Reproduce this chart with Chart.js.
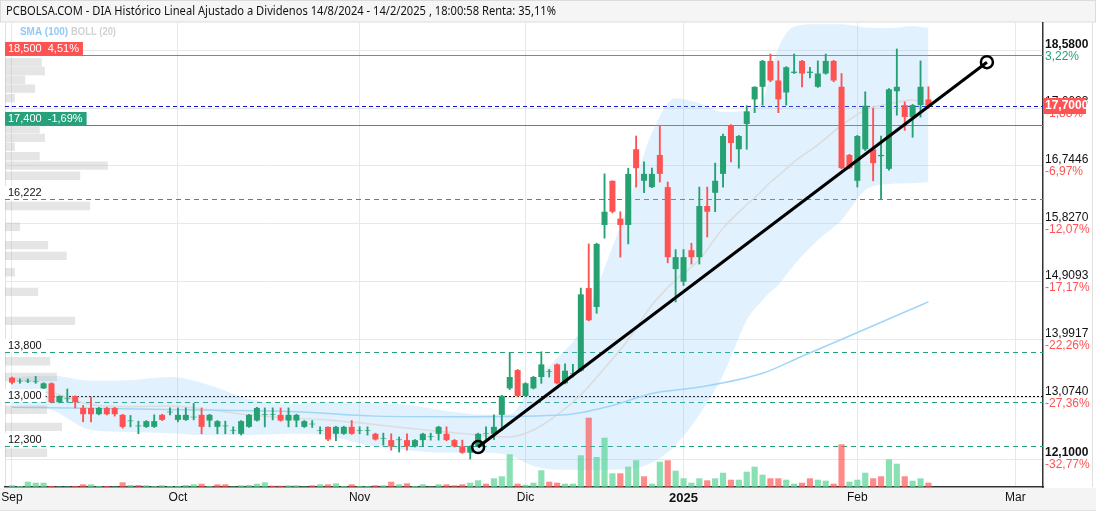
<!DOCTYPE html>
<html>
<head>
<meta charset="utf-8">
<script src="https://cdn.jsdelivr.net/npm/chart.js@4.4.1/dist/chart.umd.min.js"></script>
<style>
  html, body { margin: 0; padding: 0; background: #fff; }
  canvas { display: block; }
</style>
</head>
<body>
<canvas id="c" width="1096" height="512"></canvas>
<script>
// ---------- data ----------
const title = 'PCBOLSA.COM - DIA Histórico Lineal Ajustado a Dividenos 14/8/2024 - 14/2/2025 , 18:00:58 Renta: 35,11%';

// x axis is in trading sessions, 0 = 2 Sep 2024
const monthLabels = ['Sep', 'Oct', 'Nov', 'Dic', '2025', 'Feb', 'Mar'];
const monthStart = [0, 21, 44, 65, 85, 107, 127];

const open = [13.39,13.33,13.33,13.32,13.22,13.30,13.00,13.05,13.10,12.91,
  12.91,12.81,12.91,12.91,12.80,12.70,12.62,12.61,12.61,12.80,
  12.84,12.72,12.72,12.76,12.80,12.71,12.61,12.62,12.55,12.50,
  12.61,12.71,12.80,12.80,12.80,12.71,12.71,12.61,12.65,12.55,
  12.61,12.50,12.50,12.61,12.55,12.55,12.50,12.42,12.40,12.40,
  12.40,12.30,12.40,12.45,12.50,12.50,12.40,12.30,12.20,12.30,
  12.50,12.50,12.80,13.22,13.51,13.10,13.22,13.40,13.48,13.60,
  13.30,13.45,13.50,14.81,14.51,15.81,16.51,15.91,15.81,17.01,
  16.51,16.41,16.92,16.41,15.11,14.91,15.41,15.30,16.11,16.32,
  16.62,17.39,17.01,17.41,17.80,18.00,18.41,18.10,17.91,18.22,
  18.41,18.22,18.00,18.21,18.41,18.00,16.92,16.51,17.01,17.01,
  16.90,16.70,17.93,17.71,17.52,17.71,17.80];
const high = [13.40,13.37,13.37,13.41,13.31,13.31,13.10,13.21,13.10,12.95,
  13.08,12.92,12.92,12.92,12.81,12.79,12.70,12.71,12.80,12.81,
  12.91,12.91,12.91,12.98,12.91,12.81,12.71,12.70,12.61,12.71,
  12.81,12.92,12.91,12.91,12.91,12.91,12.81,12.71,12.71,12.61,
  12.61,12.62,12.62,12.71,12.61,12.61,12.51,12.51,12.50,12.45,
  12.50,12.41,12.51,12.51,12.62,12.61,12.41,12.40,12.31,12.51,
  12.61,12.80,13.11,13.79,13.52,13.31,13.41,13.80,13.52,13.61,
  13.61,13.60,14.81,15.51,15.52,16.62,16.51,16.02,16.71,17.22,
  16.81,16.71,17.39,16.49,15.42,15.42,15.52,16.41,16.41,16.79,
  17.25,17.40,17.23,17.70,18.00,18.42,18.52,18.41,18.32,18.52,
  18.42,18.31,18.41,18.52,18.42,18.21,16.93,17.23,17.92,17.66,
  17.22,17.97,18.60,17.76,17.72,18.41,18.00];
const low = [13.29,13.30,13.31,13.30,13.21,12.99,12.99,13.00,12.91,12.69,
  12.69,12.80,12.80,12.78,12.59,12.61,12.50,12.60,12.60,12.71,
  12.80,12.69,12.71,12.72,12.50,12.61,12.50,12.50,12.50,12.48,
  12.60,12.70,12.61,12.72,12.70,12.61,12.61,12.60,12.60,12.50,
  12.39,12.39,12.49,12.49,12.50,12.48,12.40,12.32,12.24,12.21,
  12.24,12.29,12.30,12.40,12.40,12.39,12.29,12.19,12.10,12.29,
  12.41,12.41,12.55,13.20,13.09,13.09,13.21,13.30,13.40,13.29,
  13.29,13.40,13.49,14.29,14.41,15.60,16.00,15.30,15.51,16.41,
  16.32,16.40,16.49,15.21,14.59,14.85,15.19,15.19,15.62,16.02,
  16.41,16.81,16.71,17.01,17.59,17.71,18.08,17.59,17.71,18.21,
  18.00,18.14,17.99,18.20,18.08,16.70,16.70,16.41,16.99,16.51,
  16.22,16.68,17.55,17.31,17.20,17.52,17.66];
const close = [13.31,13.34,13.34,13.33,13.30,13.00,13.10,13.06,13.00,12.81,
  12.81,12.91,12.81,12.81,12.61,12.71,12.63,12.70,12.70,12.72,
  12.85,12.80,12.80,12.77,12.61,12.80,12.70,12.63,12.56,12.70,
  12.80,12.91,12.81,12.81,12.71,12.80,12.80,12.70,12.66,12.56,
  12.41,12.61,12.61,12.50,12.56,12.56,12.41,12.43,12.30,12.41,
  12.30,12.40,12.50,12.46,12.61,12.40,12.30,12.20,12.30,12.50,
  12.51,12.61,13.10,13.40,13.10,13.30,13.40,13.60,13.49,13.30,
  13.50,13.46,14.71,14.30,15.51,16.02,16.02,15.81,16.62,16.71,
  16.62,16.62,16.62,15.30,15.30,15.30,15.30,16.11,16.02,16.51,
  17.22,17.11,17.22,17.61,18.00,18.41,18.10,17.80,18.31,18.24,
  18.21,18.24,18.21,18.41,18.10,16.71,16.71,17.22,17.70,16.79,
  16.92,17.96,18.00,17.52,17.71,18.00,17.70];

// volume (thousand shares) and its colour: g = up vs previous close, r = down
const volume = [17,10,53,43,43,10,5,5,10,27,
  27,10,10,5,47,20,20,17,10,17,
  10,10,20,27,33,10,27,27,5,17,
  20,33,47,13,13,17,17,5,17,27,
  27,37,10,27,10,10,17,17,53,27,
  37,10,27,5,27,27,17,27,43,67,
  33,87,107,327,33,23,43,167,53,43,
  33,33,317,693,300,493,137,137,203,267,
  107,33,253,267,163,87,43,87,67,87,
  143,73,73,153,203,123,87,87,73,33,
  43,87,73,63,33,427,53,73,143,87,
  107,277,233,107,63,87,43];
const volDir = 'gggggrggrr' + 'ggrgrgrggg' + 'ggggrgrrgg' + 'gggrrgggrg' + 'rggrggrgrg' +
  'rggggrrrgg' + 'rgggrgggrr' + 'gggrgggrgg' + 'rggrggggrg' + 'grggggrrgg' +
  'rrggrrgggr' + 'rggrggr';

// Bollinger (20) read at these sessions
const bbDay   = [0,5,10,15,20,25,30,35,40,45,50,55,60,63,66,69,72,75,78,81,84,87,90,93,95,96,97,99,102,105,108,111,114,116];
const bbUpper = [13.40,13.42,13.34,13.35,13.40,13.27,13.05,12.97,13.00,12.99,12.96,12.86,12.80,12.81,13.31,13.70,14.15,15.13,16.13,17.27,17.82,17.74,17.60,17.63,17.79,18.19,18.61,18.95,18.99,18.99,18.94,18.93,18.96,18.93];
const bbMid   = [13.18,13.15,12.96,12.93,12.94,12.88,12.80,12.75,12.72,12.66,12.59,12.53,12.47,12.45,12.56,12.80,13.12,13.54,13.99,14.54,14.94,15.26,15.76,16.13,16.36,16.49,16.59,16.81,17.08,17.39,17.63,17.73,17.79,17.70];
const bbLower = [12.96,12.88,12.56,12.53,12.51,12.48,12.48,12.50,12.47,12.32,12.24,12.20,12.20,12.16,11.99,11.93,11.93,11.93,11.94,12.04,12.32,12.80,13.43,14.30,14.62,14.75,14.86,15.18,15.57,15.89,16.36,16.46,16.47,16.49];

// SMA (100)
const smaDay = [0,22,36,46,58,70,76,81,87,95,100,106,113,116];
const sma100 = [12.92,12.88,12.85,12.78,12.77,12.80,12.95,13.14,13.24,13.46,13.73,14.05,14.43,14.59];

// hand drawn trend line
const trendDay = [59, 123.4];
const trendVal = [12.29, 18.39];

// horizontal levels
const levels = [18.5, 17.4, 16.222, 13.8, 13.0, 12.3];
const levelLabels = ['18,500  4,51%', '17,400  -1,69%', '16,222', '13,800', '13,000', '12,300'];
const refClose = 13.10;
const lastPrice = 17.70;
const lastLabel = '17,7000';

// right axis ticks
const yTicks = [12.1, 13.074, 13.9917, 14.9093, 15.827, 16.7446, 17.6623, 18.58];
const yTickPct = ['-32,77%', '-27,36%', '-22,26%', '-17,17%', '-12,07%', '-6,97%', '-1,88%', '3,22%'];

// volume by price (left profile)
const profPrice = [18.39,18.25,18.11,17.97,17.82,17.33,17.19,17.05,16.90,16.75,16.59,16.11,15.78,15.49,15.32,15.06,14.75,14.29,13.65,13.40,12.88,12.61,12.20];
const profVol   = [71,77,39,58,19,67,77,19,67,198,145,164,29,83,119,19,64,135,87,100,81,110,81];

// ---------- chart ----------
const GREEN = '#26a172';
const RED = '#ff5252';
const TEAL = '#26a17b';
const days = open.map((_, i) => i);
const candleCol = days.map(i => close[i] >= open[i] ? GREEN : RED);
const FONT = '"Liberation Sans", Arial, sans-serif';

const levelStyle = [
  { line: RED, dash: [], box: RED, txt: '#fff' },
  { line: TEAL, dash: [], box: TEAL, txt: '#fff' },
  { line: TEAL, dash: [5, 4], box: '#fff', txt: '#111' },
  { line: TEAL, dash: [5, 4], box: '#fff', txt: '#111' },
  { line: TEAL, dash: [5, 4], box: '#fff', txt: '#111' },
  { line: TEAL, dash: [5, 4], box: '#fff', txt: '#111' }
];

// horizontal rule across the plot, drawn as 1px rectangles
function hline(chart, v, color, dash) {
  const ctx = chart.ctx, a = chart.chartArea;
  const py = Math.round(chart.scales.y.getPixelForValue(v));
  ctx.save();
  ctx.fillStyle = color;
  if (!dash.length) {
    ctx.fillRect(a.left, py, a.right - a.left, 1);
  } else {
    for (let x = a.left; x < a.right; x += dash[0] + dash[1]) {
      ctx.fillRect(x, py, Math.min(dash[0], a.right - x), 1);
    }
  }
  ctx.restore();
}

const decor = {
  id: 'decor',
  beforeDraw(chart) {
    const ctx = chart.ctx, a = chart.chartArea;
    ctx.save();
    ctx.fillStyle = '#fff';
    ctx.fillRect(0, 0, chart.width, chart.height);
    // title bar
    ctx.fillStyle = '#f5f5f5';
    ctx.fillRect(0, 0, chart.width, 22);
    ctx.strokeStyle = '#dcdcdc';
    ctx.lineWidth = 1;
    ctx.strokeRect(0.5, 0.5, chart.width - 1, 21.5);
    ctx.fillStyle = '#111';
    ctx.font = '13px "Noto Sans", ' + FONT;
    ctx.textBaseline = 'middle';
    ctx.fillText(title, 6, 11.5, 550);
    // strip under the time axis and frame lines
    ctx.fillStyle = '#f4f4f4';
    ctx.fillRect(0, a.bottom + 1, chart.width, 22);
    ctx.strokeStyle = '#e0e0e0';
    ctx.beginPath();
    ctx.moveTo(0, a.bottom + 23.5); ctx.lineTo(chart.width, a.bottom + 23.5);
    ctx.moveTo(a.left + 0.5, a.top); ctx.lineTo(a.left + 0.5, a.bottom);
    ctx.moveTo(1092.5, a.top); ctx.lineTo(1092.5, a.bottom);
    ctx.stroke();
    ctx.restore();
  },
  beforeDatasetsDraw(chart) {
    levels.forEach((v, i) => hline(chart, v, levelStyle[i].line, levelStyle[i].dash));
    hline(chart, refClose, '#000', [2, 2]);
    hline(chart, lastPrice, '#1414c8', [4, 3]);
  },
  afterDatasetsDraw(chart) {
    const ctx = chart.ctx, a = chart.chartArea, ys = chart.scales.y, xs = chart.scales.x;
    ctx.save();
    ctx.font = '11px ' + FONT;
    ctx.textBaseline = 'middle';
    levels.forEach((v, i) => {
      const py = Math.round(ys.getPixelForValue(v));
      const w = ctx.measureText(levelLabels[i]).width + 7;
      ctx.fillStyle = levelStyle[i].box;
      ctx.fillRect(a.left, py - 13, w, 13);
      ctx.fillStyle = levelStyle[i].txt;
      ctx.fillText(levelLabels[i], a.left + 3, py - 6);
    });
    ctx.font = 'bold 11px ' + FONT;
    ctx.fillStyle = '#90caf9';
    ctx.fillText('SMA (100)', 20, 32, 48);
    ctx.fillStyle = '#d2d2d2';
    ctx.fillText('BOLL (20)', 71, 32, 45);
    // month labels of the time axis
    ctx.textAlign = 'center';
    ctx.fillStyle = '#111';
    monthStart.forEach((d, i) => {
      const bold = monthLabels[i] === '2025';
      ctx.font = (bold ? 'bold 13px ' : '12px ') + FONT;
      ctx.fillText(monthLabels[i], xs.getPixelForValue(d), a.bottom + 11);
    });
    ctx.restore();
  },
  afterDraw(chart) {
    const ctx = chart.ctx, ys = chart.scales.y;
    ctx.save();
    ctx.textBaseline = 'middle';
    yTicks.forEach((v, i) => {
      const py = ys.getPixelForValue(v);
      const edge = i === 0 || i === yTicks.length - 1;
      ctx.font = (edge ? 'bold ' : '') + '12px ' + FONT;
      ctx.fillStyle = '#111';
      ctx.fillText(v.toFixed(4).replace('.', ','), ys.left + 2, py - 6);
      ctx.font = '12px ' + FONT;
      ctx.fillStyle = yTickPct[i][0] === '-' ? RED : TEAL;
      ctx.fillText(yTickPct[i], ys.left + 2, py + 6);
    });
    const py = ys.getPixelForValue(lastPrice);
    ctx.fillStyle = RED;
    ctx.fillRect(ys.left, Math.round(py) - 8, 43, 16);
    ctx.fillStyle = '#fff';
    ctx.font = 'bold 12px ' + FONT;
    ctx.fillText(lastLabel, ys.left + 2, py);
    ctx.restore();
  }
};

const ctx = document.getElementById('c').getContext('2d');

new Chart(ctx, {
  type: 'bar',
  data: {
    datasets: [
      {
        type: 'line', label: 'boll up',
        data: bbDay.map((d, i) => ({ x: d, y: bbUpper[i] })),
        borderColor: 'rgba(0,0,0,0)', borderWidth: 0.01, pointRadius: 0, cubicInterpolationMode: 'monotone',
        fill: '+1', backgroundColor: 'rgba(130,195,245,0.24)', order: 10
      },
      {
        type: 'line', label: 'boll low',
        data: bbDay.map((d, i) => ({ x: d, y: bbLower[i] })),
        borderColor: 'rgba(0,0,0,0)', borderWidth: 0.01, pointRadius: 0, cubicInterpolationMode: 'monotone',
        fill: false, order: 10
      },
      {
        type: 'line', label: 'boll mid',
        data: bbDay.map((d, i) => ({ x: d, y: bbMid[i] })),
        borderColor: '#dcdcdc', borderWidth: 1.5, pointRadius: 0,
        cubicInterpolationMode: 'monotone', fill: false, order: 9
      },
      {
        type: 'line', label: 'SMA 100',
        data: smaDay.map((d, i) => ({ x: d, y: sma100[i] })),
        borderColor: '#a3d5f7', borderWidth: 1.5, pointRadius: 0,
        cubicInterpolationMode: 'monotone', fill: false, order: 8
      },
      {
        label: 'profile', indexAxis: 'y', xAxisID: 'xp', yAxisID: 'yp',
        data: profPrice.map((p, i) => ({ x: profVol[i], y: p })),
        backgroundColor: 'rgba(170,170,170,0.3)',
        grouped: false, barPercentage: 0.95, categoryPercentage: 1, order: 7
      },
      {
        label: 'volume', yAxisID: 'yv',
        data: days.map(i => ({ x: i, y: volume[i] })),
        backgroundColor: days.map(i => volDir[i] === 'g' ? 'rgba(92,214,150,0.72)' : 'rgba(255,82,82,0.68)'),
        grouped: false, barPercentage: 0.78, categoryPercentage: 1, order: 6
      },
      {
        label: 'wick',
        data: days.map(i => ({ x: i, y: [low[i], high[i]] })),
        backgroundColor: candleCol,
        grouped: false, barPercentage: 1, categoryPercentage: 1, maxBarThickness: 1.2, order: 5
      },
      {
        label: 'body',
        data: days.map(i => ({ x: i, y: [open[i], close[i]] })),
        backgroundColor: candleCol,
        grouped: false, barPercentage: 0.76, categoryPercentage: 1, order: 4
      },
      {
        type: 'line', label: 'trend',
        data: trendDay.map((d, i) => ({ x: d, y: trendVal[i] })),
        borderColor: '#000', borderWidth: 3, tension: 0,
        pointRadius: 6, pointBorderWidth: 2.5, pointBorderColor: '#000',
        pointBackgroundColor: 'rgba(0,0,0,0)', fill: false, order: 1
      }
    ]
  },
  options: {
    responsive: false,
    animation: false,
    events: [],
    layout: { autoPadding: false, padding: { left: 5, top: 23, right: 0, bottom: 0 } },
    plugins: {
      legend: { display: false },
      tooltip: { enabled: false },
      title: { display: false }
    },
    scales: {
      x: {
        type: 'linear', min: -0.886, max: 130.5, offset: false,
        afterBuildTicks: s => { s.ticks = monthStart.map(v => ({ value: v })); },
        afterFit: s => { s.height = 25; },
        grid: { color: '#e8e8e8', offset: false, drawTicks: false },
        border: { color: '#333', width: 1.5 },
        ticks: { display: false }
      },
      y: {
        type: 'linear', position: 'right', min: 11.6566, max: 19.0112, beginAtZero: false,
        afterBuildTicks: s => { s.ticks = yTicks.map(v => ({ value: v })); },
        afterFit: s => { s.width = 53; },
        grid: { color: '#e8e8e8', drawTicks: false },
        border: { color: '#333', width: 1.5 },
        ticks: { display: false }
      },
      yp: { type: 'linear', position: 'left', display: false, min: 11.6566, max: 19.0112, offset: false, beginAtZero: false },
      xp: { type: 'linear', position: 'bottom', display: false, min: 0, max: 2000, offset: false },
      yv: { type: 'linear', position: 'left', display: false, min: 0, max: 4640 }
    }
  },
  plugins: [decor]
});
</script>
</body>
</html>
